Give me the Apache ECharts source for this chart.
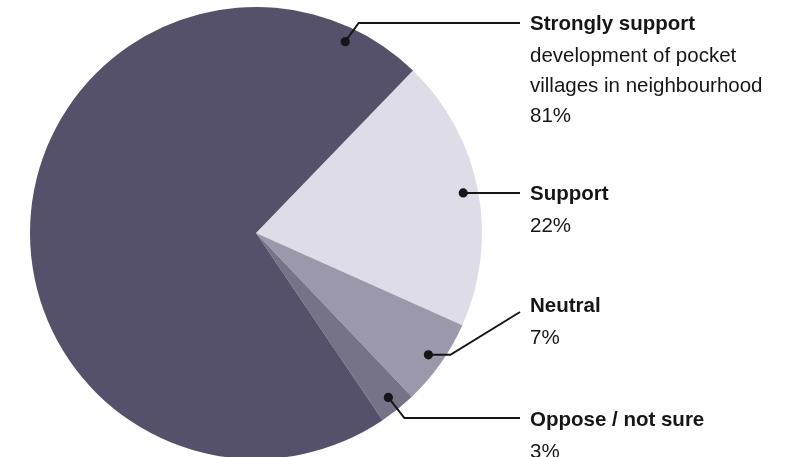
<!DOCTYPE html>
<html>
<head>
<meta charset="utf-8">
<script src="https://cdn.jsdelivr.net/npm/echarts@6/dist/echarts.min.js"></script>
<style>
  html, body { margin: 0; padding: 0; background: #ffffff; }
  #chart { width: 791px; height: 457px; }
</style>
</head>
<body>
<div id="chart"></div>
<script>
// Survey answers, drawn clockwise starting with "Support"
const categories = ['Support', 'Neutral', 'Oppose / not sure', 'Strongly support'];
const subtitles = ['', '', '', 'development of pocket\nvillages in neighbourhood'];
const values = [22, 7, 3, 81];
const colors = ['#dedce6', '#9b98ab', '#767287', '#55516a'];

// Pie geometry (pixels)
const CX = 256, CY = 233, R = 226;
const START_ANGLE = 46;          // ECharts convention: degrees counter-clockwise from 3 o'clock
const DOT_RADIUS = 0.934 * R;    // callout dots sit just inside the rim
const LABEL_X = 530;
const LINE_END_X = 520;
const FONT = 'Liberation Sans';
const INK = '#161616';

// Callout layout for each slice
const callouts = [
  { kind: 'straight' },
  { kind: 'kneeFirst', lineY: 312, titleY: 306.5, knee: 22 },
  { kind: 'diagFirst', lineY: 418, titleY: 420.5, slope: 0.78 },
  { kind: 'diagFirst', lineY: 23, titleY: 24.5, slope: 0.72, anchorBack: 19 }
];

const total = values.reduce((a, b) => a + b, 0);

// Clockwise angle (degrees from 12 o'clock) where each slice starts and ends
function sliceSpan(i) {
  const top = 90 - START_ANGLE;
  let before = 0;
  for (let k = 0; k < i; k++) before += values[k];
  const s = top + before / total * 360;
  return [s, s + values[i] / total * 360];
}
function polar(deg, r) {
  const a = deg * Math.PI / 180;
  return [CX + r * Math.sin(a), CY - r * Math.cos(a)];
}

// Leader lines, dots and label tops
const guides = values.map((v, i) => {
  const [s, e] = sliceSpan(i);
  const c = callouts[i];
  const ang = c.anchorBack != null ? e - c.anchorBack : (s + e) / 2;
  const dot = polar(ang, DOT_RADIUS);
  let pts, titleY;
  if (c.kind === 'straight') {
    pts = [dot, [LINE_END_X, dot[1]]];
    titleY = dot[1] + 1.5;
  } else if (c.kind === 'kneeFirst') {
    pts = [dot, [dot[0] + c.knee, dot[1]], [LINE_END_X, c.lineY]];
    titleY = c.titleY;
  } else {
    const kx = dot[0] + Math.abs(dot[1] - c.lineY) * c.slope;
    pts = [dot, [kx, c.lineY], [LINE_END_X, c.lineY]];
    titleY = c.titleY;
  }
  return { dot, pts, titleY };
});

const TITLE_LH = 34, BODY_LH = 30;

function labelText(i) {
  let txt = '{t|' + categories[i] + '}';
  if (subtitles[i]) {
    subtitles[i].split('\n').forEach(line => { txt += '\n{d|' + line + '}'; });
  }
  txt += '\n{d|' + values[i] + '%}';
  return txt;
}

const graphics = [];
guides.forEach(g => {
  graphics.push({
    type: 'polyline',
    shape: { points: g.pts },
    style: { stroke: INK, lineWidth: 2, fill: null },
    z: 10
  });
  graphics.push({
    type: 'circle',
    shape: { cx: g.dot[0], cy: g.dot[1], r: 4.6 },
    style: { fill: INK },
    z: 11
  });
});

const chart = echarts.init(document.getElementById('chart'), null, { renderer: 'canvas' });
chart.setOption({
  animation: false,
  backgroundColor: '#ffffff',
  graphic: graphics,
  series: [{
    type: 'pie',
    center: [CX, CY],
    radius: [0, R],
    startAngle: START_ANGLE,
    clockwise: true,
    silent: true,
    avoidLabelOverlap: false,
    emphasis: { disabled: true },
    itemStyle: { borderWidth: 0 },
    data: categories.map((name, i) => ({
      name,
      value: values[i],
      itemStyle: { color: colors[i] }
    })),
    label: {
      show: true,
      position: 'outside',
      overflow: 'none',
      alignTo: 'none',
      bleedMargin: 0,
      formatter: p => labelText(p.dataIndex),
      color: INK,
      fontFamily: FONT,
      rich: {
        t: { fontFamily: FONT, fontSize: 20.5, fontWeight: 'bold', color: INK, lineHeight: TITLE_LH },
        d: { fontFamily: FONT, fontSize: 20.5, color: INK, lineHeight: BODY_LH }
      }
    },
    labelLine: { show: false },
    labelLayout: p => ({
      x: LABEL_X,
      y: guides[p.dataIndex].titleY - TITLE_LH / 2,
      align: 'left',
      verticalAlign: 'top',
      hideOverlap: false,
      moveOverlap: null
    })
  }]
});
</script>
</body>
</html>
